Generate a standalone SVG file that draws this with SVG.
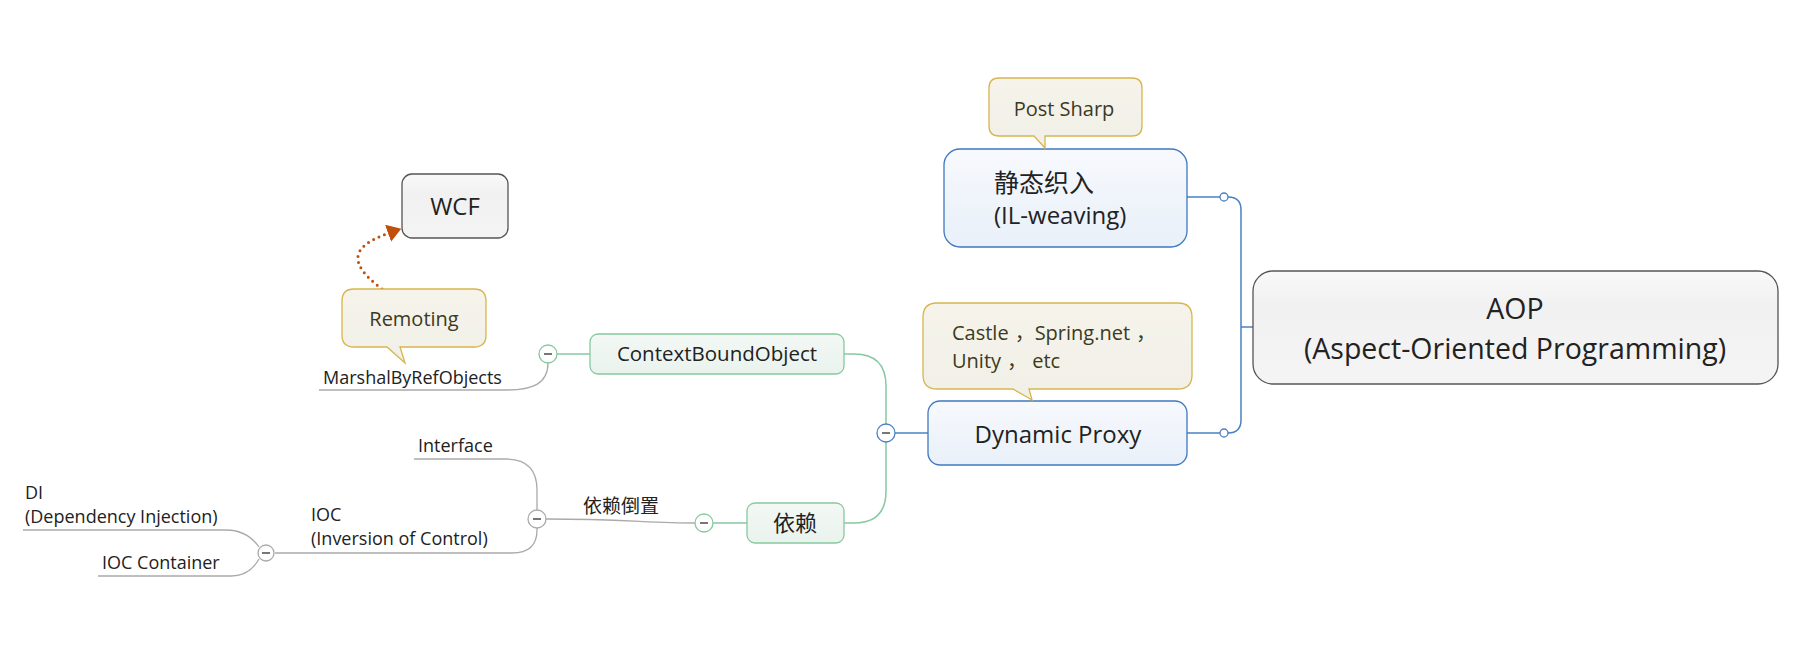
<svg xmlns="http://www.w3.org/2000/svg" width="1814" height="646" viewBox="0 0 1814 646">
<defs>
<linearGradient id="gBlue" x1="0" y1="0" x2="0" y2="1"><stop offset="0" stop-color="#f7f9fd"/><stop offset="1" stop-color="#e9f0f9"/></linearGradient>
<linearGradient id="gGreen" x1="0" y1="0" x2="0" y2="1"><stop offset="0" stop-color="#f3f8f5"/><stop offset="1" stop-color="#e9f3ed"/></linearGradient>
<linearGradient id="gGray" x1="0" y1="0" x2="0" y2="1"><stop offset="0" stop-color="#f9f9f9"/><stop offset="0.3" stop-color="#f1f1f1"/><stop offset="1" stop-color="#f4f4f4"/></linearGradient>
<linearGradient id="gNote" x1="0" y1="0" x2="0" y2="1"><stop offset="0" stop-color="#f5f3ea"/><stop offset="1" stop-color="#f1f0e8"/></linearGradient>
<marker id="arrow" viewBox="0 0 14 18" refX="1" refY="9" markerWidth="14" markerHeight="18" markerUnits="userSpaceOnUse" orient="auto"><path d="M0,0 L14,9 L0,18 z" fill="#c24e0c"/></marker>
</defs>
<style>
text{font-family:"Open Sans","Noto Sans CJK SC",sans-serif;fill:#222}
.blue{fill:url(#gBlue);stroke:#3f78c0;stroke-width:1.3}
.green{fill:url(#gGreen);stroke:#86c99f;stroke-width:1.3}
.gray{fill:url(#gGray);stroke:#555;stroke-width:1.3}
.note{fill:url(#gNote);stroke:#d7b54c;stroke-width:1.3}
.notetext{fill:#3b3a22;font-size:20px}
.lb{fill:none;stroke:#4a80c4;stroke-width:1.5}
.lg{fill:none;stroke:#86c99f;stroke-width:1.5}
.ll{fill:none;stroke:#aaaaaa;stroke-width:1.3}
.cb{fill:#fff;stroke:#4a80c4;stroke-width:1.3}
.cg{fill:#fff;stroke:#86c99f;stroke-width:1.3}
.cl{fill:#fff;stroke:#aaaaaa;stroke-width:1.3}
.minus{stroke:#555;stroke-width:1.6}
.leaf{font-size:18px}
</style>
<g id="connectors">
<path class="lb" d="M1253 327 H1241"/>
<path class="lb" d="M1187 197 H1220 M1228 197 Q1241 197 1241 210 V420 Q1241 433 1228 433 M1220 433 H1187"/>
<circle class="cb" cx="1224" cy="197" r="4"/>
<circle class="cb" cx="1224" cy="433" r="4"/>
<path class="lb" d="M928 433 H895"/>
<path class="lg" d="M886 424 V386 Q886 354 854 354 H844"/>
<path class="lg" d="M886 442 V491 Q886 523 854 523 H844"/>
<path class="lg" d="M590 354 H557"/>
<path class="lg" d="M747 523 H713"/>
<path class="ll" d="M548 363 C548 384 532 390 507 390 H319"/>
<path class="ll" d="M546 519 C620 519 650 523 695 523"/>
<path class="ll" d="M537 510 V490 Q537 459 506 459 H414"/>
<path class="ll" d="M537 528 V530 Q537 553 512 553 H275"/>
<path class="ll" d="M23 530 H226 C242 530 252 537 259 547"/>
<path class="ll" d="M98 576 H231 C246 576 254 568 259 559"/>
<path d="M382 289 C346 262 352 246 389 233" fill="none" stroke="#c24e0c" stroke-width="3" stroke-linecap="round" stroke-dasharray="0 6" marker-end="url(#arrow)"/>
<g id="collapse-dynamic"><circle class="cb" cx="886" cy="433" r="9"/><line class="minus" x1="882" y1="433" x2="890" y2="433"/></g>
<g id="collapse-cbo"><circle class="cg" cx="548" cy="354" r="9"/><line class="minus" x1="544" y1="354" x2="552" y2="354"/></g>
<g id="collapse-yilai"><circle class="cg" cx="704" cy="523" r="9"/><line class="minus" x1="700" y1="523" x2="708" y2="523"/></g>
<g id="collapse-daozhi"><circle class="cl" cx="537" cy="519" r="9"/><line class="minus" x1="533" y1="519" x2="541" y2="519"/></g>
<g id="collapse-ioc"><circle class="cl" cx="266" cy="553" r="8"/><line class="minus" x1="262" y1="553" x2="270" y2="553"/></g>
</g>
<g id="aop">
<rect class="gray" x="1253" y="271" width="525" height="113" rx="20"/>
<text x="1515" y="319" text-anchor="middle" font-size="28.5">AOP</text>
<text x="1515" y="359" text-anchor="middle" font-size="28.5">(Aspect-Oriented Programming)</text>
</g>
<g id="static-weaving">
<rect class="blue" x="944" y="149" width="243" height="98" rx="16"/>
<text x="994" y="192" font-size="25">静态织入</text>
<text x="994" y="224" font-size="24">(IL-weaving)</text>
</g>
<g id="note-postsharp">
<path class="note" d="M999 78 H1132 Q1142 78 1142 88 V126 Q1142 136 1132 136 H1045 V148 L1034 136 H999 Q989 136 989 126 V88 Q989 78 999 78 Z"/>
<text class="notetext" x="1064" y="116" text-anchor="middle">Post Sharp</text>
</g>
<g id="dynamic-proxy">
<rect class="blue" x="928" y="401" width="259" height="64" rx="12"/>
<text x="1058" y="443" text-anchor="middle" font-size="24">Dynamic Proxy</text>
</g>
<g id="note-castle">
<path class="note" d="M937 303 H1178 Q1192 303 1192 317 V375 Q1192 389 1178 389 H1029 L1032 400 L1013 389 H937 Q923 389 923 375 V317 Q923 303 937 303 Z"/>
<text class="notetext" x="952" y="340">Castle<tspan dx="6">，</tspan>Spring.net<tspan dx="6">，</tspan></text>
<text class="notetext" x="952" y="368">Unity<tspan dx="6">，</tspan> etc</text>
</g>
<g id="context-bound-object">
<rect class="green" x="590" y="334" width="254" height="40" rx="8"/>
<text x="717" y="361" text-anchor="middle" font-size="20.5">ContextBoundObject</text>
</g>
<g id="yilai">
<rect class="green" x="747" y="503" width="97" height="40" rx="8"/>
<text x="795" y="531" text-anchor="middle" font-size="22">依赖</text>
</g>
<g id="wcf">
<rect class="gray" x="402" y="174" width="106" height="64" rx="10"/>
<text x="455" y="215" text-anchor="middle" font-size="24">WCF</text>
</g>
<g id="note-remoting">
<path class="note" d="M354 289 H474 Q486 289 486 301 V335 Q486 347 474 347 H400 L405 363 L387 347 H354 Q342 347 342 335 V301 Q342 289 354 289 Z"/>
<text class="notetext" x="414" y="326" text-anchor="middle">Remoting</text>
</g>
<g id="marshal"><text class="leaf" x="323" y="384">MarshalByRefObjects</text></g>
<g id="daozhi"><text x="583" y="513" font-size="19">依赖倒置</text></g>
<g id="interface"><text class="leaf" x="418" y="452">Interface</text></g>
<g id="ioc"><text class="leaf" x="311" y="521">IOC</text><text class="leaf" x="311" y="545">(Inversion of Control)</text></g>
<g id="di"><text class="leaf" x="25" y="499">DI</text><text class="leaf" x="25" y="523">(Dependency Injection)</text></g>
<g id="ioc-container"><text class="leaf" x="102" y="569">IOC Container</text></g>
</svg>
